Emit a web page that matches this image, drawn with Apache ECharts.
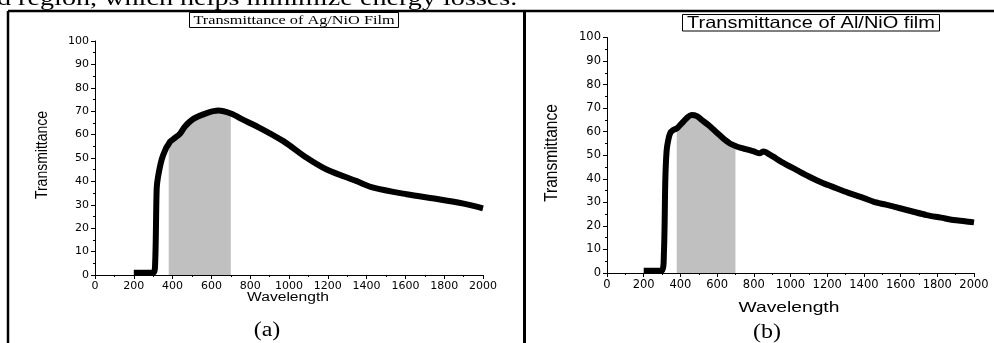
<!DOCTYPE html>
<html>
<head>
<meta charset="utf-8">
<script src="https://cdn.jsdelivr.net/npm/echarts@6/dist/echarts.min.js"></script>
<style>
html,body{margin:0;padding:0;background:#fff;}
#c{width:994px;height:343px;}
</style>
</head>
<body>
<div id="c"></div>
<script>
// Panel (a): Ag/NiO film
var wavelengthA = [200, 300, 310, 318, 325, 344, 365, 380, 387, 410, 438, 464, 507, 576, 636, 700, 760, 851, 971, 1091, 1194, 1349, 1435, 1606, 1778, 1900, 2000];
var transA      = [1, 1, 5, 37, 42, 49.4, 54, 56, 57, 58.5, 60.4, 63.5, 66.7, 69.2, 70.3, 69.0, 66.5, 62.8, 57.2, 50.1, 45.1, 40.1, 37.3, 34.5, 32.3, 30.5, 28.5];
// Panel (b): Al/NiO film
var wavelengthB = [200, 298, 310, 318, 325, 334, 345, 361, 380, 389, 416, 440, 461, 490, 516, 550, 579, 610, 643, 670, 700, 730, 761, 800, 834, 850, 866, 880, 906, 950, 1034, 1100, 1179, 1250, 1324, 1400, 1451, 1520, 1597, 1670, 1742, 1820, 1887, 1950, 2000];
var transB      = [1, 1, 8, 40, 52, 56.5, 59.5, 60.7, 61.4, 62.0, 64.3, 66.2, 67.1, 66.6, 65, 63, 61, 58.8, 56.5, 55, 53.9, 53.1, 52.5, 51.6, 50.8, 51.6, 51.3, 50.6, 49.4, 47.2, 43.7, 41, 38.1, 36, 33.8, 31.8, 30.3, 29, 27.5, 26, 24.6, 23.5, 22.5, 22, 21.5];
// visible band highlighted
var shadeStart = 380, shadeEnd = 700;
var titleA = 'Transmittance of Ag/NiO Film';
var titleB = 'Transmittance of Al/NiO film';
var xName = 'Wavelength', yName = 'Transmittance';
var topText = 'd region, which helps minimize energy losses.';

function pairs(xs, ys) { return xs.map(function (x, i) { return [x, ys[i]]; }); }
function band(xs, ys) { return pairs(xs, ys).filter(function (p) { return p[0] >= shadeStart && p[0] <= shadeEnd; }); }

var chart = echarts.init(document.getElementById('c'), null, {renderer: 'canvas'});

function plain(v) { return String(v); }
function xAx(gi, fs) {
  return {
    gridIndex: gi, type: 'value', min: 0, max: 2000, interval: 200,
    axisLine: {show: true, lineStyle: {color: '#000', width: 1}},
    axisTick: {show: true, length: 4, lineStyle: {color: '#000'}},
    minorTick: {show: true, splitNumber: 2, length: 2, lineStyle: {color: '#000'}},
    splitLine: {show: false},
    axisLabel: {color: '#000', fontFamily: 'DejaVu Sans', fontSize: fs, margin: 6, formatter: plain}
  };
}
function yAx(gi, fs) {
  return {
    gridIndex: gi, type: 'value', min: 0, max: 100, interval: 10,
    axisLine: {show: true, lineStyle: {color: '#000', width: 1}},
    axisTick: {show: true, length: 4, lineStyle: {color: '#000'}},
    minorTick: {show: true, splitNumber: 2, length: 2, lineStyle: {color: '#000'}},
    splitLine: {show: false},
    axisLabel: {color: '#000', fontFamily: 'DejaVu Sans', fontSize: fs, margin: 6, formatter: plain}
  };
}
function stretchedText(cx, cy, txt, font, size, sx, rot) {
  return {
    type: 'group', x: cx, y: cy, rotation: rot || 0,
    scaleX: rot ? 1 : sx, scaleY: rot ? sx : 1,
    children: [{type: 'text', style: {text: txt, x: 0, y: 0, align: 'center', verticalAlign: 'middle', fontFamily: font, fontSize: size, fill: '#000'}}]
  };
}
function curve(gi, xs, ys) {
  return {type: 'line', xAxisIndex: gi, yAxisIndex: gi, data: pairs(xs, ys), symbol: 'none',
    smooth: 0.3,
    lineStyle: {width: 6, color: '#000', join: 'round', cap: 'butt'}, z: 3};
}
function shade(gi, xs, ys) {
  return {type: 'line', xAxisIndex: gi, yAxisIndex: gi, data: band(xs, ys), symbol: 'none',
    smooth: 0.3,
    lineStyle: {width: 0, opacity: 0}, areaStyle: {color: '#c0c0c0', opacity: 1}, z: 1};
}

chart.setOption({
  animation: false,
  backgroundColor: '#fff',
  grid: [
    {left: 95, top: 41, width: 388, height: 234, containLabel: false},
    {left: 607, top: 37.5, width: 367, height: 235.5, containLabel: false}
  ],
  xAxis: [xAx(0, 11), xAx(1, 11.5)],
  yAxis: [yAx(0, 11), yAx(1, 11.5)],
  series: [
    shade(0, wavelengthA, transA),
    curve(0, wavelengthA, transA),
    shade(1, wavelengthB, transB),
    curve(1, wavelengthB, transB)
  ],
  graphic: [
    {type: 'group', x: -3, y: 10, scaleX: 1.28, children: [
      {type: 'text', style: {text: topText, x: 0, y: 0, align: 'left', verticalAlign: 'bottom', fontFamily: 'Liberation Serif', fontSize: 22, fill: '#000'}}
    ]},
    {type: 'line', shape: {x1: 8, y1: 11, x2: 994, y2: 11}, style: {stroke: '#000', lineWidth: 2.5}},
    {type: 'line', shape: {x1: 8, y1: 11, x2: 8, y2: 343}, style: {stroke: '#000', lineWidth: 2.5}},
    {type: 'line', shape: {x1: 524.5, y1: 11, x2: 524.5, y2: 343}, style: {stroke: '#000', lineWidth: 3}},
    {type: 'rect', shape: {x: 189.5, y: 12.5, width: 209, height: 15}, style: {stroke: '#000', fill: '#fff', lineWidth: 1}},
    stretchedText(294, 20.5, titleA, 'Liberation Serif', 13, 1.25),
    {type: 'rect', shape: {x: 682.5, y: 14.5, width: 257, height: 16.5}, style: {stroke: '#000', fill: '#fff', lineWidth: 1}},
    stretchedText(811, 23, titleB, 'Liberation Sans', 16.5, 1.21),
    stretchedText(42, 155, yName, 'Liberation Sans', 14, 1.2, Math.PI / 2),
    stretchedText(552, 153, yName, 'Liberation Sans', 15.5, 1.2, Math.PI / 2),
    stretchedText(288, 298, xName, 'Liberation Sans', 12.5, 1.25),
    stretchedText(789, 308, xName, 'Liberation Sans', 15.5, 1.24),
    stretchedText(267, 331, '(a)', 'Liberation Serif', 20, 1.2),
    stretchedText(767, 333, '(b)', 'Liberation Serif', 20, 1.2)
  ]
});
</script>
</body>
</html>
